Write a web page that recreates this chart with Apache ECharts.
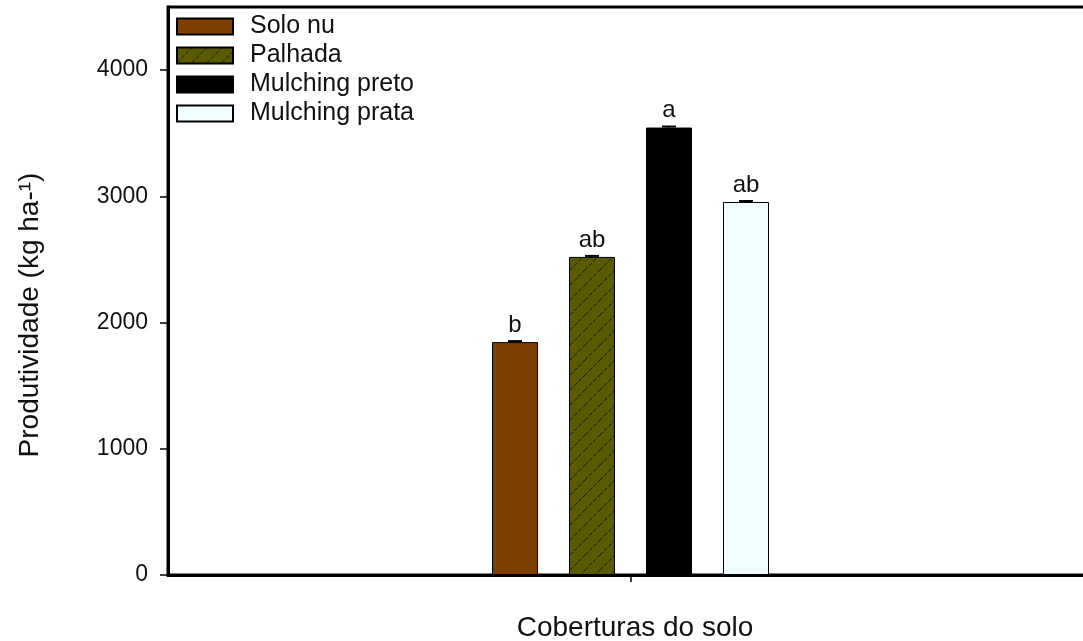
<!DOCTYPE html>
<html><head><meta charset="utf-8">
<script src="https://cdn.jsdelivr.net/npm/echarts@6/dist/echarts.min.js"></script>
<style>html,body{margin:0;padding:0;background:#fff;overflow:hidden}#c{width:1083px;height:641px}</style>
</head><body><div id="c"></div>
<script>
const categories = ['Coberturas do solo'];
const seriesNames = ['Solo nu', 'Palhada', 'Mulching preto', 'Mulching prata'];
const values = [1845, 2520, 3545, 2955];
const errors = [8, 8, 8, 8];
const letters = ['b', 'ab', 'a', 'ab'];
const yTicks = [0, 1000, 2000, 3000, 4000];
const xTitle = 'Coberturas do solo';
const yTitle = 'Produtividade (kg ha-¹)';

const BAR_W = 46, GAP = 31;
const FONT = 'Liberation Sans, Arial, sans-serif';

// hatch pattern for Palhada
const T = 15;
const pc = document.createElement('canvas');
pc.width = T; pc.height = T;
const g = pc.getContext('2d');
g.fillStyle = '#5a5a00'; g.fillRect(0, 0, T, T);
g.strokeStyle = '#1a1a00'; g.lineWidth = 1; g.setLineDash([4, 2]);
g.beginPath(); g.moveTo(0, T); g.lineTo(T, 0); g.stroke();

const fills = ['#7f3f00', {image: pc, repeat: 'repeat'}, '#000000', '#effdfd'];

const chart = echarts.init(document.getElementById('c'), null, {renderer: 'canvas'});
const series = seriesNames.map((n, i) => ({
  name: n, type: 'bar', barWidth: BAR_W, barGap: (GAP / BAR_W * 100).toFixed(1) + '%',
  data: [values[i]],
  itemStyle: {color: fills[i], borderColor: '#000', borderWidth: 1},
  label: {show: true, position: 'top', distance: 5, formatter: () => letters[i],
          fontFamily: FONT, fontSize: 24, color: '#111'}
}));
series.push({
  type: 'custom', name: 'err', silent: true, z: 5,
  data: seriesNames.map((n, i) => [0, values[i], errors[i], i]),
  renderItem: (params, api) => {
    const i = api.value(3);
    const off = (i - 1.5) * (BAR_W + GAP);
    const top = api.coord([0, api.value(1) + api.value(2)]);
    const bot = api.coord([0, api.value(1) - api.value(2)]);
    const x = top[0] + off;
    return {type: 'group', children: [
      {type: 'line', shape: {x1: x - 7, y1: top[1], x2: x + 7, y2: top[1]}, style: {stroke: '#000', lineWidth: 2}},
      {type: 'line', shape: {x1: x, y1: top[1], x2: x, y2: bot[1]}, style: {stroke: '#000', lineWidth: 1}}
    ]};
  }
});

chart.setOption({
  animation: false,
  backgroundColor: '#fff',
  grid: {left: 168, right: -10, top: 7, bottom: 66, show: true, borderColor: '#000', borderWidth: 3,
         containLabel: false, outerBoundsMode: 'none'},
  legend: {
    data: seriesNames, orient: 'vertical', left: 176, top: 14, padding: 0,
    icon: 'rect', itemWidth: 56, itemHeight: 16, itemGap: 4,
    textStyle: {fontFamily: FONT, fontSize: 25, lineHeight: 25, color: '#111', padding: [0, 0, 0, 12]}
  },
  graphic: [
    {type: 'text', x: 635, y: 628, style: {text: xTitle, font: '28px ' + FONT, fill: '#111',
      textAlign: 'center', textVerticalAlign: 'middle'}},
    {type: 'text', x: 30, y: 315, rotation: Math.PI / 2, style: {text: yTitle, font: '28px ' + FONT,
      fill: '#111', textAlign: 'center', textVerticalAlign: 'middle'}}
  ],
  xAxis: {
    type: 'category', data: categories,
    axisLine: {lineStyle: {color: '#000', width: 3}},
    axisTick: {show: true, alignWithLabel: true, length: 7, lineStyle: {color: '#000', width: 1.5}},
    axisLabel: {show: false}
  },
  yAxis: {
    type: 'value', min: 0, max: 4500, interval: 1000,
    axisLine: {show: true, lineStyle: {color: '#000', width: 3}},
    axisTick: {show: true, length: 8, customValues: yTicks, lineStyle: {color: '#000', width: 1.5}},
    splitLine: {show: false},
    axisLabel: {fontFamily: FONT, fontSize: 23, color: '#111', margin: 20, customValues: yTicks,
      formatter: v => yTicks.includes(v) ? String(v) : ''}
  },
  series
});
</script></body></html>
